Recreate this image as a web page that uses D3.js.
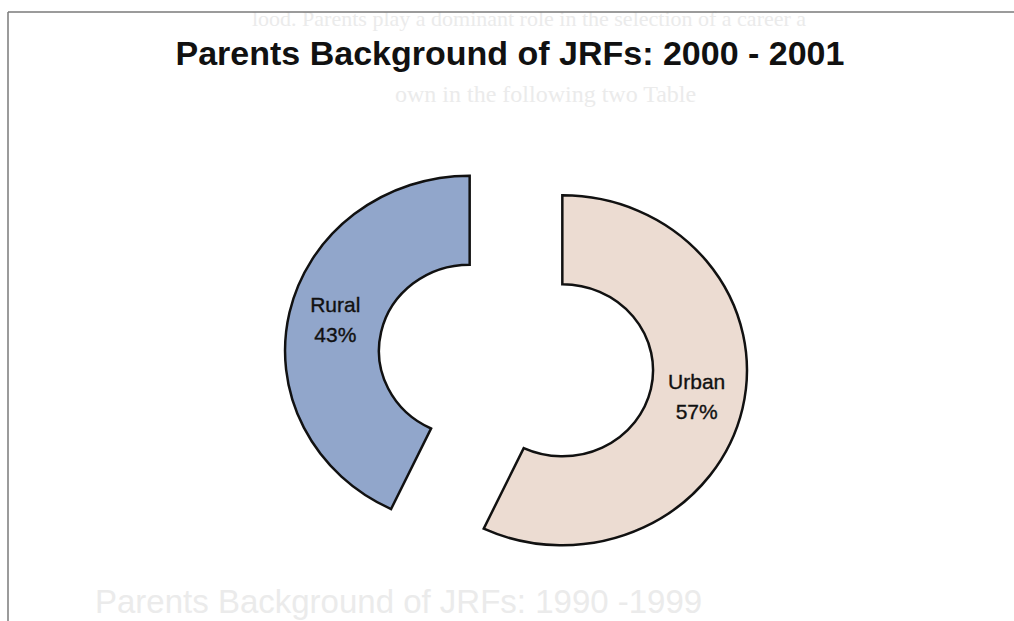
<!DOCTYPE html>
<html>
<head>
<meta charset="utf-8">
<script src="https://cdn.jsdelivr.net/npm/d3@7"></script>
<style>
  html, body { margin: 0; padding: 0; background: #ffffff; }
  svg { display: block; font-family: "Liberation Sans", Arial, sans-serif; }
</style>
</head>
<body>
<svg id="chart" width="1014" height="621"></svg>
<script>
// ---- data ----
const title = "Parents Background of JRFs: 2000 - 2001";
const categories = ["Urban", "Rural"];
const values = [57, 43];
const labels = ["57%", "43%"];
// faint show-through text from the scanned page
const ghostLines = [
  "lood.  Parents play a dominant role in the selection of a career a",
  "own in the following two Table",
  "Parents Background of JRFs: 1990 -1999"
];

// ---- layout ----
const W = 1014, H = 621;
const cx = 516, cy = 360.5;
const sx = 1.055;              // slight horizontal stretch of the scan
const outerR = 175, innerR = 86, explode = 45;
const fills = { Urban: "#ecdcd2", Rural: "#91a6cb" };

const svg = d3.select("#chart");

// ghost text (very faint show-through)
const ghost = svg.append("g").attr("fill", "#ebebeb").attr("font-family", "Liberation Serif, serif");
ghost.append("text").attr("x", 252).attr("y", 26).attr("font-size", 22).text(ghostLines[0]);
ghost.append("text").attr("x", 395).attr("y", 102).attr("font-size", 24).text(ghostLines[1]);
ghost.append("text").attr("x", 95).attr("y", 613).attr("font-size", 33)
  .attr("font-family", "Liberation Sans, Arial, sans-serif").text(ghostLines[2]);

// frame
svg.append("line").attr("x1", 8).attr("y1", 12).attr("x2", W).attr("y2", 12)
  .attr("stroke", "#7a7a7a").attr("stroke-width", 1.5);
svg.append("line").attr("x1", 8).attr("y1", 12).attr("x2", 8).attr("y2", H)
  .attr("stroke", "#7a7a7a").attr("stroke-width", 1.5);

// title
svg.append("text")
  .attr("x", 510).attr("y", 65)
  .attr("text-anchor", "middle")
  .attr("font-size", 34).attr("font-weight", "bold")
  .attr("fill", "#111")
  .text(title);

// donut
const data = categories.map((c, i) => ({ name: c, value: values[i], label: labels[i] }));
const pie = d3.pie().sort(null).value(d => d.value);
const arcs = pie(data);
const arc = d3.arc().innerRadius(innerR).outerRadius(outerR);

function offset(a) {
  const mid = (a.startAngle + a.endAngle) / 2;
  return [explode * Math.sin(mid), -explode * Math.cos(mid)];
}

const g = svg.append("g").attr("transform", `translate(${cx},${cy}) scale(${sx},1)`);
g.selectAll("path").data(arcs).join("path")
  .attr("transform", d => { const [dx, dy] = offset(d); return `translate(${dx},${dy})`; })
  .attr("d", arc)
  .attr("fill", d => fills[d.data.name])
  .attr("stroke", "#111")
  .attr("stroke-width", 2.5)
  .attr("stroke-linejoin", "miter")
  .attr("vector-effect", "non-scaling-stroke");

// labels
const lab = svg.append("g").attr("text-anchor", "middle").attr("font-size", 21)
  .attr("fill", "#111").attr("stroke", "#111").attr("stroke-width", 0.35);
arcs.forEach(d => {
  const [dx, dy] = offset(d);
  const [ax, ay] = arc.centroid(d);
  const x = cx + sx * (ax + dx);
  const y = cy + ay + dy;
  lab.append("text").attr("x", x).attr("y", y - 10).text(d.data.name);
  lab.append("text").attr("x", x).attr("y", y + 20).text(d.data.label);
});
</script>
</body>
</html>
